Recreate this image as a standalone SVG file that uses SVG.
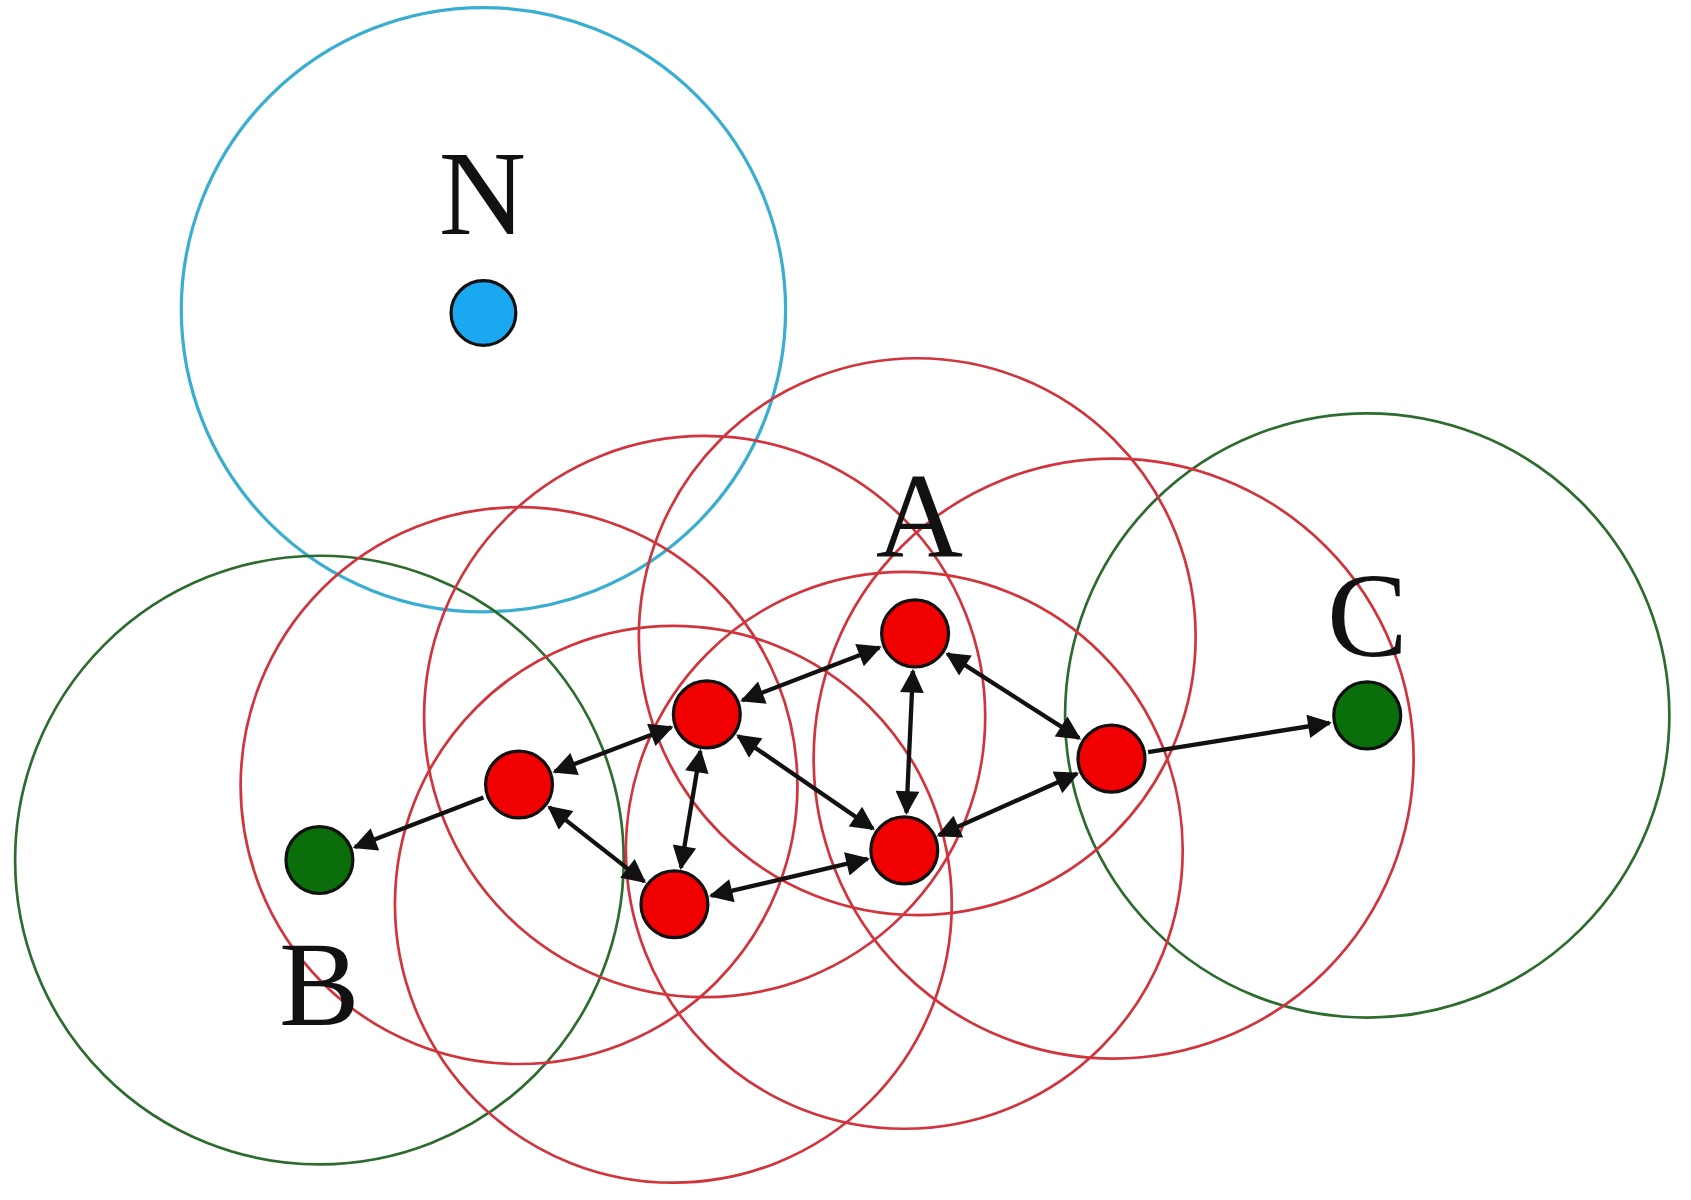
<svg xmlns="http://www.w3.org/2000/svg" width="1691" height="1200" viewBox="0 0 1691 1200">
<style>
.r{fill:none;stroke:#d0343c;stroke-width:2.5}
.g{fill:none;stroke:#2e6b2e;stroke-width:2.5}
.b{fill:none;stroke:#3aaed0;stroke-width:3}
.dr{fill:#f00000;stroke:#111;stroke-width:3}
.dg{fill:#0a6e0a;stroke:#111;stroke-width:3}
.db{fill:#1aa8f0;stroke:#111;stroke-width:3}
.t{font-family:"Liberation Serif",serif;font-size:112px;fill:#111;text-anchor:middle}
.e{stroke:#111;stroke-width:4;fill:none}
</style>
<defs>
<marker id="ah" viewBox="0 0 10 10" refX="9" refY="5" markerUnits="userSpaceOnUse" markerWidth="28" markerHeight="22" orient="auto-start-reverse"><path d="M0,0 L10,5 L0,10 z" fill="#111"/></marker>
</defs>
<rect width="1691" height="1200" fill="#fff"/>
<g transform="scale(1.0791)">
<g id="ranges">
<circle class="b" cx="448" cy="287" r="280"/>
<circle class="g" cx="296" cy="797" r="282"/>
<circle class="g" cx="1267" cy="663" r="280"/>
<circle class="r" cx="850" cy="590" r="258"/>
<circle class="r" cx="653" cy="664" r="260"/>
<circle class="r" cx="481" cy="728" r="258"/>
<circle class="r" cx="624" cy="838" r="258"/>
<circle class="r" cx="838" cy="788" r="258"/>
<circle class="r" cx="1032" cy="703" r="278"/>
</g>
<g id="connectors">
<line class="e" x1="815" y1="600" x2="688" y2="649" marker-start="url(#ah)" marker-end="url(#ah)"/>
<line class="e" x1="846" y1="622" x2="840" y2="753" marker-start="url(#ah)" marker-end="url(#ah)"/>
<line class="e" x1="878" y1="606" x2="1000" y2="684" marker-start="url(#ah)" marker-end="url(#ah)"/>
<line class="e" x1="622" y1="674" x2="514" y2="715" marker-start="url(#ah)" marker-end="url(#ah)"/>
<line class="e" x1="649" y1="696" x2="631" y2="804" marker-start="url(#ah)" marker-end="url(#ah)"/>
<line class="e" x1="684" y1="682" x2="809" y2="768" marker-start="url(#ah)" marker-end="url(#ah)"/>
<line class="e" x1="509" y1="748" x2="597" y2="817" marker-start="url(#ah)" marker-end="url(#ah)"/>
<line class="e" x1="659" y1="830" x2="804" y2="796" marker-start="url(#ah)" marker-end="url(#ah)"/>
<line class="e" x1="870" y1="774" x2="998" y2="717" marker-start="url(#ah)" marker-end="url(#ah)"/>
<line class="e" x1="448" y1="739" x2="329" y2="785" marker-end="url(#ah)"/>
<line class="e" x1="1064" y1="697" x2="1232" y2="670" marker-end="url(#ah)"/>
</g>
<g id="node-N"><circle class="db" cx="448" cy="290" r="30"/><text class="t" x="447" y="217">N</text></g>
<g id="node-A"><circle class="dr" cx="848" cy="587" r="31"/><text class="t" x="852" y="516">A</text></g>
<g id="node-2"><circle class="dr" cx="655" cy="662" r="31"/></g>
<g id="node-3"><circle class="dr" cx="481" cy="727" r="31"/></g>
<g id="node-4"><circle class="dr" cx="625" cy="838" r="31"/></g>
<g id="node-5"><circle class="dr" cx="838" cy="788" r="31"/></g>
<g id="node-6"><circle class="dr" cx="1030" cy="703" r="31"/></g>
<g id="node-B"><circle class="dg" cx="296" cy="797" r="31"/><text class="t" x="296" y="950">B</text></g>
<g id="node-C"><circle class="dg" cx="1267" cy="663" r="31"/><text class="t" x="1267" y="608">C</text></g>
</g>
</svg>
